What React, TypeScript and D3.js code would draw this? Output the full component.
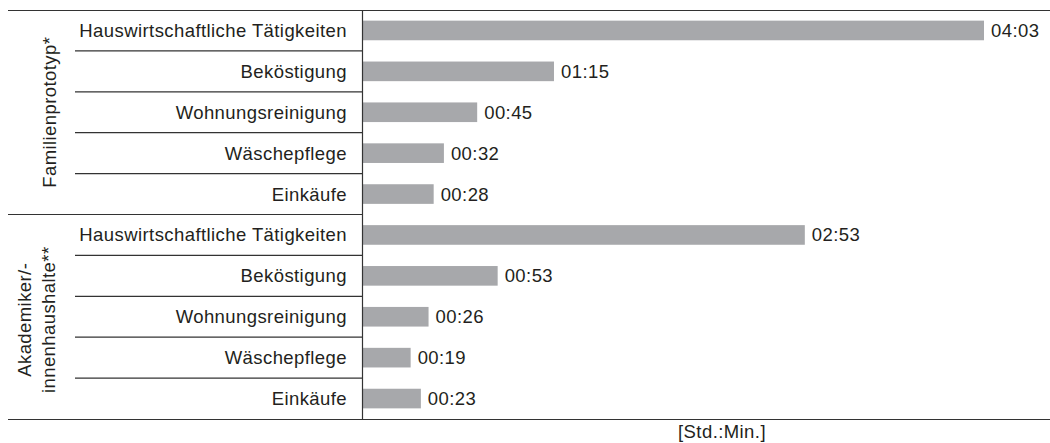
import React from "react";
import * as d3 from "d3";

const groups = ["Familienprototyp*", "Akademiker/-\ninnenhaushalte**"];
const categories = [
  "Hauswirtschaftliche Tätigkeiten",
  "Beköstigung",
  "Wohnungsreinigung",
  "Wäschepflege",
  "Einkäufe",
];
// minutes
const familyValues = [243, 75, 45, 32, 28];
const academicValues = [173, 53, 26, 19, 23];
const unitLabel = "[Std.:Min.]";

const W = 1050;
const H = 443;
const axisX = 362;
const top = 10;
const bottom = 419;
const FONT = "'Liberation Sans', Arial, Helvetica, sans-serif";
const FS = 18.5;
const LS = 0.42;
const TEXT = "#231f20";
const LINE = "#333333";
const BAR = "#a7a8ab";

const fmt = (m: number) =>
  `${String(Math.floor(m / 60)).padStart(2, "0")}:${String(m % 60).padStart(2, "0")}`;

export default function App() {
  const seriesByGroup = [familyValues, academicValues];
  const rows = groups.flatMap((g, gi) =>
    categories.map((c, ci) => ({ key: `${gi}-${ci}`, group: gi, cat: c, value: seriesByGroup[gi][ci] }))
  );
  const y = d3.scaleBand<string>().domain(rows.map((r) => r.key)).range([top, bottom]).paddingInner(0).paddingOuter(0);
  const x = d3.scaleLinear().domain([0, 243]).range([axisX, 984]);
  const step = y.step();
  const barH = step * 0.48;

  return (
    <svg width={W} height={H} style={{ display: "block", position: "absolute", left: 0, top: 0 }} fontFamily={FONT} letterSpacing={LS}>
      <rect width={W} height={H} fill="#fff" />
      <line x1={8} x2={W} y1={top + 0.5} y2={top + 0.5} stroke={LINE} strokeWidth={1.2} />
      <line x1={8} x2={W} y1={bottom + 0.5} y2={bottom + 0.5} stroke={LINE} strokeWidth={1.2} />
      <line x1={8} x2={axisX} y1={top + step * 5} y2={top + step * 5} stroke={LINE} strokeWidth={1.2} />
      {rows.map((r, i) =>
        i % 5 !== 0 ? (
          <line key={"s" + r.key} x1={75} x2={axisX} y1={y(r.key)!} y2={y(r.key)!} stroke={LINE} strokeWidth={1.2} />
        ) : null
      )}
      {rows.map((r) => (
        <rect
          key={"b" + r.key}
          x={x(0)}
          y={y(r.key)! + (step - barH) / 2}
          width={x(r.value) - x(0)}
          height={barH}
          fill={BAR}
        />
      ))}
      <line x1={axisX + 0.5} x2={axisX + 0.5} y1={top} y2={bottom + 1} stroke={LINE} strokeWidth={1.2} />
      {rows.map((r) => (
        <text
          key={"c" + r.key}
          x={axisX - 15}
          y={y(r.key)! + step / 2}
          dy="0.35em"
          textAnchor="end"
          fontSize={FS}
          fill={TEXT}
        >
          {r.cat}
        </text>
      ))}
      {rows.map((r) => (
        <text
          key={"v" + r.key}
          x={x(r.value) + 7}
          y={y(r.key)! + step / 2}
          dy="0.35em"
          textAnchor="start"
          fontSize={FS}
          fill={TEXT}
        >
          {fmt(r.value)}
        </text>
      ))}
      {groups.map((g, gi) => {
        const lines = g.split("\n");
        const cy = top + step * 5 * gi + (step * 5) / 2 + (gi === 1 ? 3 : 0);
        const lineH = 24;
        const baseX = lines.length === 1 ? 56 : 31;
        return (
          <text
            key={"g" + gi}
            transform={`translate(${baseX},${cy}) rotate(-90)`}
            textAnchor="middle"
            fontSize={FS}
            fill={TEXT}
          >
            {lines.map((l, li) => (
              <tspan key={li} x={0} y={li * lineH}>
                {l}
              </tspan>
            ))}
          </text>
        );
      })}
      <text x={722} y={438} textAnchor="middle" fontSize={FS} fill={TEXT}>
        {unitLabel}
      </text>
    </svg>
  );
}
